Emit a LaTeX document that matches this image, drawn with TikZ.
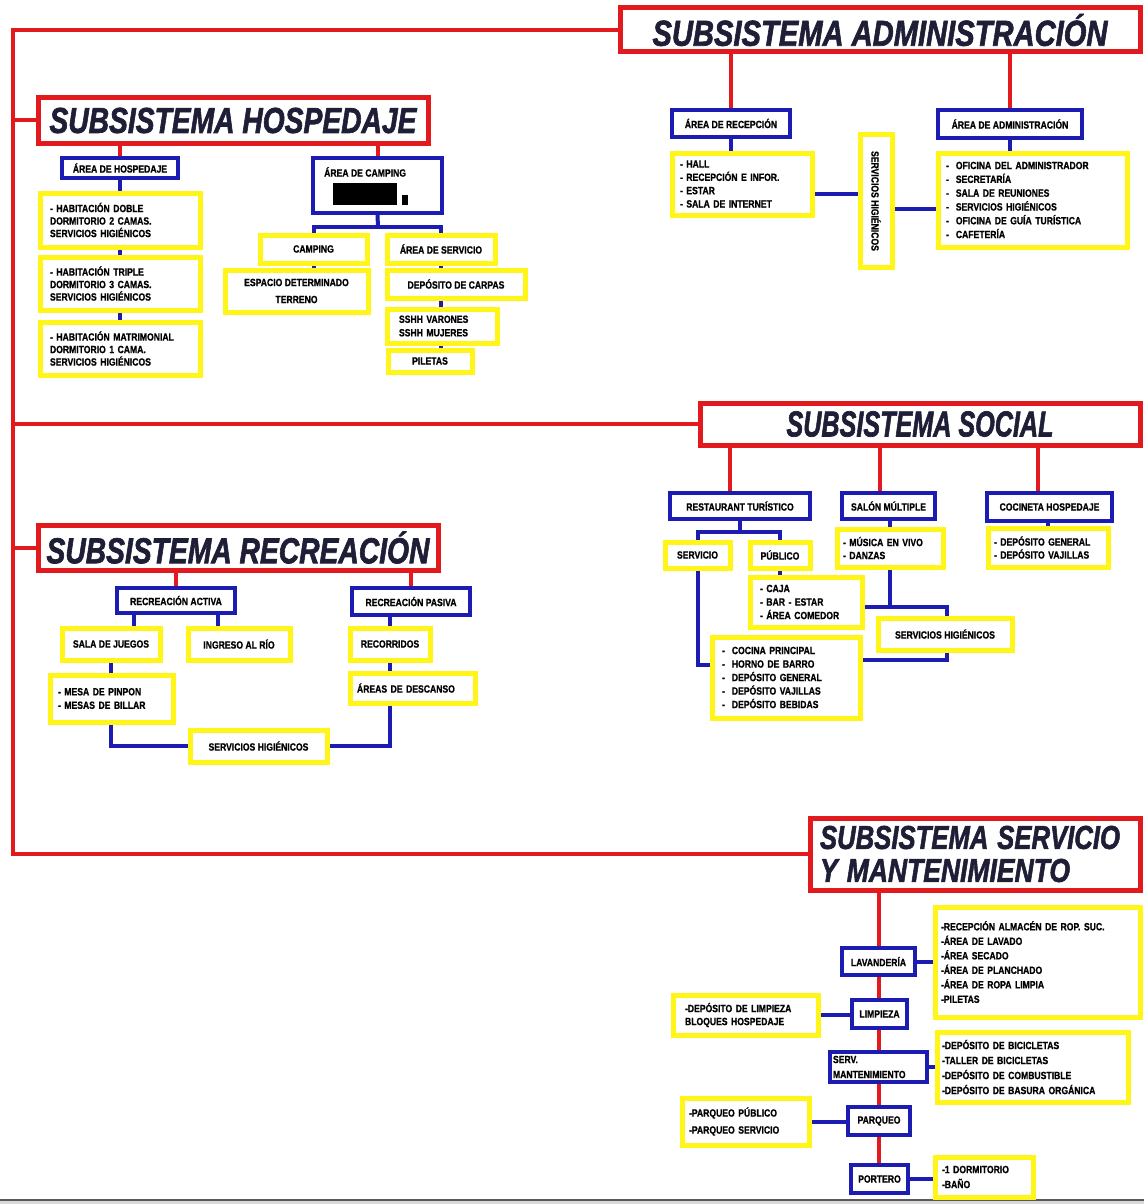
\documentclass[tikz,border=0pt]{standalone}
\usepackage{fontspec}
\setmainfont{Liberation Sans}
\newfontfamily\sfont[FakeStretch=0.82,FakeBold=0.9]{Liberation Sans}
\newfontfamily\tfont[FakeBold=2]{Liberation Sans}
\definecolor{cRed}{RGB}{226,26,30}
\definecolor{cBlue}{RGB}{28,28,178}
\definecolor{cYel}{RGB}{255,245,25}
\definecolor{cTtl}{RGB}{30,30,55}
\newcommand\smf[1]{\sfont\bfseries\fontsize{10.5}{#1}\selectfont}
\newcommand\ttl[3]{\resizebox{#1pt}{\height}{\tfont\bfseries\itshape\fontsize{#2}{#2}\selectfont #3}}
\newcommand\mkbox[7]{%
  \pgfmathsetmacro\qcx{(#3+#5)/2}\pgfmathsetmacro\qcy{(#4+#6)/2}%
  \pgfmathsetmacro\qww{#5-#3}\pgfmathsetmacro\qhh{#6-#4}%
  \node[#1,minimum width=\qww pt,minimum height=\qhh pt] (#2) at (\qcx,\qcy) {#7};}
\newcommand\mklist[8]{%
  \pgfmathsetmacro\qcx{(#3+#5)/2}\pgfmathsetmacro\qcy{(#4+#6)/2}%
  \pgfmathsetmacro\qww{#5-#3}\pgfmathsetmacro\qhh{#6-#4}%
  \pgfmathsetmacro\qtw{#5-#3-2*#7}%
  \node[#1,minimum width=\qww pt,minimum height=\qhh pt,text width=\qtw pt,inner xsep=#7pt,align=left] (#2) at (\qcx,\qcy) {#8};}
\pgfdeclarelayer{bgz}
\pgfdeclarelayer{lines}
\pgfsetlayers{bgz,lines,main}
\tikzset{
  yb/.style={draw=cYel,line width=5pt,fill=white,inner sep=0pt,font=\smf{13.5},align=center,text=black},
  bb/.style={draw=cBlue,line width=4pt,fill=white,inner sep=0pt,font=\smf{13.5},align=center,text=black},
  tb/.style={draw=cRed,line width=5pt,fill=white,inner sep=0pt,text=cTtl,align=center,font=\fontsize{34}{33}\selectfont},
  txt/.style={inner sep=0pt,font=\smf{13},text=black},
  rline/.style={draw=cRed,line width=4pt},
  bline/.style={draw=cBlue,line width=4pt},
}
\begin{document}
\begin{tikzpicture}[x=1pt,y=-1pt]
\begin{pgfonlayer}{bgz}
\fill[white] (0,0) rectangle (1144,1204);
\fill[black!15] (0,1199) rectangle (1144,1204);
\fill[black!65] (0,1199) rectangle (1144,1201);
\end{pgfonlayer}
\useasboundingbox (0,0) rectangle (1144,1204);

% titles
\mkbox{tb}{tadm}{620}{8}{1140}{52}{\ttl{455}{36}{SUBSISTEMA ADMINISTRACIÓN}}
\mkbox{tb}{thos}{38}{98}{428}{143}{\ttl{367}{36}{SUBSISTEMA HOSPEDAJE}}
\mkbox{tb}{tsoc}{700}{403}{1140}{445}{\ttl{267}{36}{SUBSISTEMA SOCIAL}}
\mkbox{tb}{trec}{38}{525}{438}{570}{\ttl{383}{36}{SUBSISTEMA RECREACIÓN}}
\mklist{tb}{tser}{810}{818}{1140}{890}{10}{\ttl{300}{33}{SUBSISTEMA SERVICIO}\\\ttl{250}{33}{Y MANTENIMIENTO}}

% hospedaje
\mkbox{bb}{ahos}{62}{158}{178}{178}{ÁREA DE HOSPEDAJE}
\mklist{yb,font=\smf{12.5}}{h1}{40}{193}{200}{247}{10}{- HABITACIÓN DOBLE\\DORMITORIO 2 CAMAS.\\SERVICIOS HIGIÉNICOS}
\mklist{yb,font=\smf{12.5}}{h2}{40}{257}{200}{310}{10}{- HABITACIÓN TRIPLE\\DORMITORIO 3 CAMAS.\\SERVICIOS HIGIÉNICOS}
\mklist{yb,font=\smf{12.5}}{h3}{40}{322}{200}{375}{10}{- HABITACIÓN MATRIMONIAL\\DORMITORIO 1 CAMA.\\SERVICIOS HIGIÉNICOS}

\mkbox{bb}{camp}{313}{158}{442}{213}{}
\node[txt,anchor=west] (campt) at (324,172) {ÁREA DE CAMPING};
\fill[black] (333,183) rectangle (397,205);
\fill[black] (402,195) rectangle (408,205);
\mkbox{yb}{cg}{260}{235}{367}{263}{CAMPING}
\mkbox{yb}{asv}{387}{235}{495}{263}{ÁREA DE SERVICIO}
\mkbox{yb,font=\smf{17}}{esp}{225}{270}{368}{312}{ESPACIO DETERMINADO\\TERRENO}
\mkbox{yb}{dep}{387}{270}{525}{298}{DEPÓSITO DE CARPAS}
\mklist{yb}{ssh}{387}{309}{497}{343}{12}{SSHH VARONES\\SSHH MUJERES}
\mkbox{yb}{pil}{388}{350}{472}{372}{PILETAS}

% administracion
\mkbox{bb}{arec}{672}{110}{790}{137}{ÁREA DE RECEPCIÓN}
\mklist{yb,font=\smf{13.3}}{lrec}{672}{153}{812}{215}{8}{- HALL\\- RECEPCIÓN E INFOR.\\- ESTAR\\- SALA DE INTERNET}
\mkbox{yb}{vsh}{860}{135}{892}{267}{\rotatebox{-90}{SERVICIOS HIGIÉNICOS}}
\mkbox{bb}{aadm}{938}{110}{1082}{138}{ÁREA DE ADMINISTRACIÓN}
\mklist{yb,font=\smf{13.8}}{ladm}{938}{153}{1127}{247}{8}{- \ OFICINA DEL ADMINISTRADOR\\- \ SECRETARÍA\\- \ SALA DE REUNIONES\\- \ SERVICIOS HIGIÉNICOS\\- \ OFICINA DE GUÍA TURÍSTICA\\- \ CAFETERÍA}

% social
\mkbox{bb}{rt}{670}{493}{810}{519}{RESTAURANT TURÍSTICO}
\mkbox{bb}{sm}{842}{493}{935}{519}{SALÓN MÚLTIPLE}
\mkbox{bb}{ch}{987}{493}{1112}{521}{COCINETA HOSPEDAJE}
\mkbox{yb}{srv}{665}{542}{730}{568}{SERVICIO}
\mkbox{yb}{pub}{750}{542}{810}{568}{PÚBLICO}
\mklist{yb}{lpub}{750}{577}{862}{627}{10}{- CAJA\\- BAR - ESTAR\\- ÁREA COMEDOR}
\mklist{yb}{kit}{712}{637}{860}{718}{10}{- \ COCINA PRINCIPAL\\- \ HORNO DE BARRO\\- \ DEPÓSITO GENERAL\\- \ DEPÓSITO VAJILLAS\\- \ DEPÓSITO BEBIDAS}
\mklist{yb,font=\smf{13}}{mus}{837}{529}{943}{567}{6}{- MÚSICA EN VIVO\\- DANZAS}
\mkbox{yb}{ssh2}{878}{618}{1012}{650}{SERVICIOS HIGIÉNICOS}
\mklist{yb,font=\smf{13}}{lch}{988}{528}{1108}{567}{6}{- DEPÓSITO GENERAL\\- DEPÓSITO VAJILLAS}

% recreacion
\mkbox{bb}{ra}{117}{588}{235}{613}{RECREACIÓN ACTIVA}
\mkbox{bb}{rp}{352}{588}{470}{615}{RECREACIÓN PASIVA}
\mkbox{yb}{sj}{62}{628}{160}{660}{SALA DE JUEGOS}
\mkbox{yb}{ig}{188}{628}{290}{660}{INGRESO AL RÍO}
\mklist{yb}{mesa}{50}{675}{173}{722}{8}{- MESA DE PINPON\\- MESAS DE BILLAR}
\mkbox{yb}{shr}{190}{730}{327}{762}{SERVICIOS HIGIÉNICOS}
\mkbox{yb}{rc}{350}{628}{430}{660}{RECORRIDOS}
\mklist{yb}{ad}{350}{673}{475}{703}{7}{ÁREAS DE DESCANSO}

% servicio y mantenimiento
\mkbox{bb}{lav}{842}{948}{915}{975}{LAVANDERÍA}
\mklist{yb,font=\smf{14.5}}{llav}{935}{907}{1140}{1017}{6}{-RECEPCIÓN ALMACÉN DE ROP. SUC.\\-ÁREA DE LAVADO\\-ÁREA SECADO\\-ÁREA DE PLANCHADO\\-ÁREA DE ROPA LIMPIA\\-PILETAS}
\mkbox{bb}{lim}{852}{1000}{907}{1028}{LIMPIEZA}
\mklist{yb,font=\smf{13}}{llim}{673}{995}{818}{1035}{12}{-DEPÓSITO DE LIMPIEZA\\BLOQUES HOSPEDAJE}
\mklist{bb,font=\smf{15}}{sman}{830}{1052}{927}{1082}{3}{SERV.\\MANTENIMIENTO}
\mklist{yb,font=\smf{15}}{lman}{937}{1032}{1128}{1102}{5}{-DEPÓSITO DE BICICLETAS\\-TALLER DE BICICLETAS\\-DEPÓSITO DE COMBUSTIBLE\\-DEPÓSITO DE BASURA ORGÁNICA}
\mkbox{bb}{par}{848}{1107}{910}{1135}{PARQUEO}
\mklist{yb,font=\smf{17}}{lpar}{682}{1098}{809}{1145}{7}{-PARQUEO PÚBLICO\\-PARQUEO SERVICIO}
\mkbox{bb}{por}{851}{1165}{908}{1193}{PORTERO}
\mklist{yb,font=\smf{15}}{lpor}{935}{1157}{1033}{1197}{7}{-1 DORMITORIO\\-BAÑO}

% helper coordinates
\coordinate (sp) at (13,0);
\coordinate (cj) at (378,227);
\coordinate (ya) at (0,194);
\coordinate (yb) at (0,209);
\coordinate (xr1) at (730,0);
\coordinate (xr2) at (880,0);
\coordinate (xr3) at (1038,0);
\coordinate (rj) at (740,532);
\coordinate (k1) at (0,665);
\coordinate (j1) at (947,607);
\coordinate (j2) at (947,660);
\coordinate (xa) at (134,0);
\coordinate (xb) at (218,0);

\begin{pgfonlayer}{lines}
% main spine
\draw[rline] (tadm.west) -- (tadm.west -| sp) -- (tser.west -| sp) -- (tser.west);
\draw[rline] (thos.west) -- (thos.west -| sp);
\draw[rline] (tsoc.west) -- (tsoc.west -| sp);
\draw[rline] (trec.west) -- (trec.west -| sp);
% hospedaje
\draw[rline] (thos.south -| ahos) -- (ahos.north);
\draw[bline] (ahos.south) -- (h1.north -| ahos);
\draw[bline] (h1.south -| ahos) -- (h2.north -| ahos);
\draw[bline] (h2.south -| ahos) -- (h3.north -| ahos);
\draw[rline] (thos.south -| camp) -- (camp.north);
\draw[bline] (camp.south) -- (cj);
\draw[bline] (cg.north) |- (cj) -| (asv.north);
\draw[bline] (cg.south) -- (esp.north -| cg);
\draw[bline] (asv.south) -- (dep.north -| asv);
\draw[bline] (dep.south -| asv) -- (ssh.north -| asv);
\draw[bline] (ssh.south -| asv) -- (pil.north -| asv);
% administracion
\draw[rline] (tadm.south -| arec) -- (arec.north);
\draw[rline] (tadm.south -| aadm) -- (aadm.north);
\draw[bline] (arec.south) -- (lrec.north -| arec);
\draw[bline] (aadm.south) -- (ladm.north -| aadm);
\draw[bline] (lrec.east |- ya) -- (vsh.west |- ya);
\draw[bline] (vsh.east |- yb) -- (ladm.west |- yb);
% social
\draw[rline] (tsoc.south -| xr1) -- (rt.north -| xr1);
\draw[rline] (tsoc.south -| xr2) -- (sm.north -| xr2);
\draw[rline] (tsoc.south -| xr3) -- (ch.north -| xr3);
\draw[bline] (rt.south -| rj) -- (rj);
\draw[bline] (srv.north) |- (rj) -| (pub.north);
\draw[bline] (pub.south) -- (lpub.north -| pub);
\draw[bline] (srv.south) |- (kit.west |- k1);
\draw[bline] (sm.south -| mus) -- (mus.north);
\draw[bline] (mus.south) -- (mus.south |- j1);
\draw[bline] (lpub.east |- j1) -- (j1) -- (ssh2.north -| j1);
\draw[bline] (kit.east |- j2) -- (j2) -- (ssh2.south -| j2);
\draw[bline] (ch.south -| lch) -- (lch.north);
% recreacion
\draw[rline] (trec.south -| ra) -- (ra.north);
\draw[rline] (trec.south -| rp) -- (rp.north);
\draw[bline] (ra.south -| xa) -- (sj.north -| xa);
\draw[bline] (ra.south -| xb) -- (ig.north -| xb);
\draw[bline] (sj.south) -- (mesa.north -| sj);
\draw[bline] (mesa.south -| sj) |- (shr.west);
\draw[bline] (rp.south -| rc) -- (rc.north);
\draw[bline] (rc.south) -- (ad.north -| rc);
\draw[bline] (ad.south -| rc) |- (shr.east);
% servicio
\draw[rline] (tser.south -| lav) -- (por.north -| lav);
\draw[bline] (lav.east) -- (llav.west |- lav.east);
\draw[bline] (llim.east) -- (lim.west |- llim.east);
\draw[bline] (sman.east) -- (lman.west |- sman.east);
\draw[bline] (lpar.east) -- (par.west |- lpar.east);
\draw[bline] (por.east) -- (lpor.west |- por.east);
\end{pgfonlayer}
\end{tikzpicture}
\end{document}
